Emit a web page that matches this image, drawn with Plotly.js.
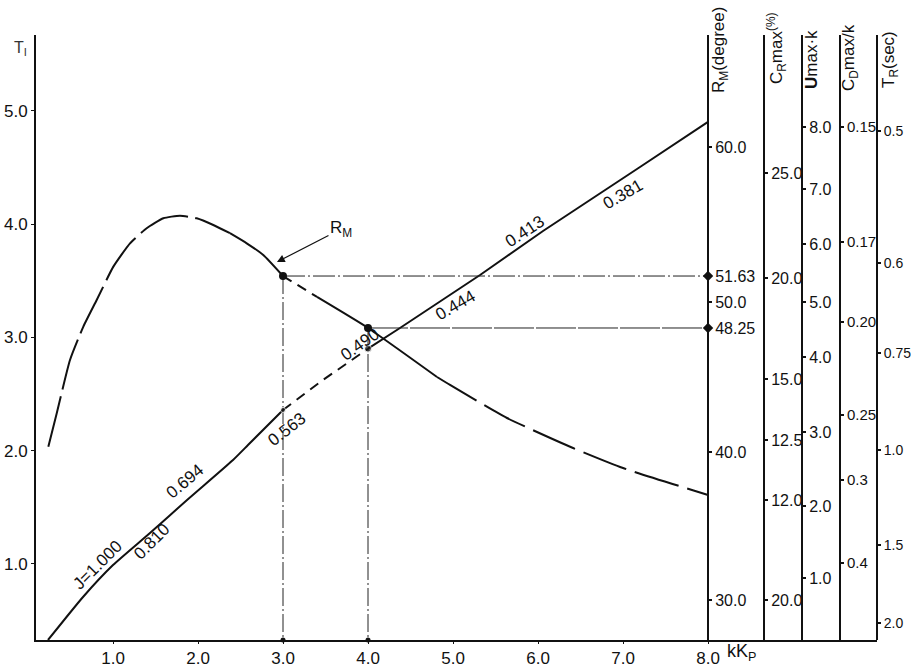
<!DOCTYPE html>
<html>
<head>
<meta charset="utf-8">
<script src="https://cdn.plot.ly/plotly-3.0.1.min.js"></script>
<style>
  html, body { margin: 0; padding: 0; background: #ffffff; }
  #chart { width: 911px; height: 668px; }
</style>
</head>
<body>
<div id="chart"></div>
<script>
// ---- data -------------------------------------------------------------
// T_I against kKp : humped curve
const humpKKp = [0.239, 0.338, 0.494, 0.651, 0.808, 1.004, 1.200, 1.396, 1.592, 1.788, 1.985, 2.180,
                 2.376, 2.573, 2.768, 3.000, 3.400, 4.000, 4.812, 4.965, 5.635, 6.412, 7.000, 8.000];
const humpTI  = [2.034, 2.329, 2.800, 3.095, 3.330, 3.625, 3.831, 3.964, 4.052, 4.075, 4.052, 3.993,
                 3.920, 3.831, 3.728, 3.542, 3.357, 3.083, 2.650, 2.580, 2.288, 2.023, 1.846, 1.608];

// T_I against kKp : rising line graduated in J
const riseKKp = [0.235, 0.647, 1.000, 1.435, 1.871, 2.412, 2.588, 3.000, 3.471, 4.000, 4.376, 5.318, 6.059, 7.200, 8.000];
const riseTI  = [0.327, 0.707, 0.989, 1.272, 1.564, 1.917, 2.049, 2.359, 2.624, 2.900, 3.083, 3.551, 3.940, 4.505, 4.903];
const jLabels = ['J=1.000', '0.810', '0.694', '0.563', '0.490', '0.444', '0.413', '0.381'];

// worked example: two kKp settings read across to the R_M scale
const exampleKKp    = [3.0, 4.0];
const exampleTI     = [3.542, 3.083];
const exampleRiseTI = [2.359, 2.900];
const exampleRM     = ['51.63', '48.25'];

// main axes ticks
const kKpTicks = [1, 2, 3, 4, 5, 6, 7, 8];
const kKpTickText = ['1.0', '2.0', '3.0', '4.0', '5.0', '6.0', '7.0', '8.0'];
const tiTicks = [1, 2, 3, 4, 5];
const tiTickText = ['1.0', '2.0', '3.0', '4.0', '5.0'];

// nomogram scales: labels and the T_I level each one sits at
const rmLabels  = ['60.0', exampleRM[0], '50.0', exampleRM[1], '40.0', '30.0'];
const rmLevels  = [4.682, exampleTI[0], 3.313, exampleTI[1], 1.988, 0.680];
const crLabels  = ['25.0', '20.0', '15.0', '12.5', '12.0', '20.0'];
const crLevels  = [4.452, 3.525, 2.632, 2.094, 1.564, 0.680];
const umLabels  = ['8.0', '7.0', '6.0', '5.0', '4.0', '3.0', '2.0', '1.0'];
const umLevels  = [4.859, 4.311, 3.825, 3.313, 2.827, 2.164, 1.511, 0.875];
const cdLabels  = ['0.15', '0.17', '0.20', '0.25', '0.3', '0.4'];
const cdLevels  = [4.859, 3.843, 3.136, 2.314, 1.740, 1.007];
const trLabels  = ['0.5', '0.6', '0.75', '1.0', '1.5', '2.0'];
const trLevels  = [4.823, 3.657, 2.862, 2.005, 1.166, 0.477];

// ---- layout helpers ---------------------------------------------------
const W = 911, H = 668;
const M = { l: 36, r: 34, t: 35, b: 28 };
const X_RANGE = [0.094, 9.988];
const Y_RANGE = [0.327, 5.671];
const plotW = W - M.l - M.r, plotH = H - M.t - M.b;
const px = v => (v - M.l) / plotW;          // page x -> paper x
const py = v => (H - M.b - v) / plotH;      // page y -> paper y
const xPaper = k => (k - X_RANGE[0]) / (X_RANGE[1] - X_RANGE[0]);

const FONT = 'Liberation Sans, Arial, sans-serif';
const INK = '#111111';

function slice(xs, ys, lo, hi) {
  const x = [], y = [];
  xs.forEach((v, i) => { if (v >= lo - 1e-9 && v <= hi + 1e-9) { x.push(v); y.push(ys[i]); } });
  return { x, y };
}
function curve(xs, ys, lo, hi, dash, shape) {
  const s = slice(xs, ys, lo, hi);
  return { type: 'scatter', mode: 'lines', x: s.x, y: s.y, hoverinfo: 'skip', showlegend: false,
           line: { color: INK, width: 2, dash: dash, shape: shape, smoothing: 0.5 } };
}

const traces = [];
// humped curve, broken the way it is drawn
traces.push(curve(humpKKp, humpTI, 0, 2.376, '52px,7px', 'spline'));
traces.push(curve(humpKKp, humpTI, 2.376, 3.0, 'solid', 'spline'));
traces.push(curve(humpKKp, humpTI, 3.0, 3.4, '10px,7px', 'spline'));
traces.push(curve(humpKKp, humpTI, 3.4, 4.812, 'solid', 'spline'));
traces.push(curve(humpKKp, humpTI, 4.812, 8.0, '46px,9px', 'spline'));
// J line
traces.push(curve(riseKKp, riseTI, 0, 3.0, 'solid', 'spline'));
traces.push(curve(riseKKp, riseTI, 3.0, 4.0, '10px,7px', 'linear'));
traces.push(curve(riseKKp, riseTI, 4.0, 8.0, 'solid', 'linear'));

// construction lines of the example
exampleKKp.forEach((k, i) => {
  traces.push({ type: 'scatter', mode: 'lines', x: [k, 8.0], y: [exampleTI[i], exampleTI[i]],
    hoverinfo: 'skip', showlegend: false,
    line: { color: '#222222', width: 1, dash: i === 0 ? '22px,3px,2px,3px' : '40px,2px' } });
  traces.push({ type: 'scatter', mode: 'lines', x: [k, k], y: [exampleTI[i], Y_RANGE[0]],
    hoverinfo: 'skip', showlegend: false,
    line: { color: '#222222', width: 1, dash: '18px,3px,2px,3px' } });
});
// example points
traces.push({ type: 'scatter', mode: 'markers', x: exampleKKp, y: exampleTI, hoverinfo: 'skip', showlegend: false,
  marker: { color: INK, size: 8 } });
traces.push({ type: 'scatter', mode: 'markers', x: exampleKKp, y: exampleRiseTI, hoverinfo: 'skip', showlegend: false,
  marker: { color: INK, size: [5, 7] } });
traces.push({ type: 'scatter', mode: 'markers', x: exampleKKp, y: exampleKKp.map(() => Y_RANGE[0]), hoverinfo: 'skip',
  showlegend: false, cliponaxis: false, marker: { color: INK, size: 5 } });
traces.push({ type: 'scatter', mode: 'markers', x: exampleKKp.map(() => 8.0), y: exampleTI, hoverinfo: 'skip',
  showlegend: false, cliponaxis: false, marker: { color: INK, size: 8, symbol: 'diamond' } });

// one invisible carrier per nomogram scale so every scale axis is drawn
const scales = [
  { ax: 'y2', labels: rmLabels, levels: rmLevels, pos: xPaper(8.0), size: 16 },
  { ax: 'y3', labels: crLabels, levels: crLevels, pos: px(764), size: 16 },
  { ax: 'y4', labels: umLabels, levels: umLevels, pos: px(802), size: 16 },
  { ax: 'y5', labels: cdLabels, levels: cdLevels, pos: px(840), size: 15 },
  { ax: 'y6', labels: trLabels, levels: trLevels, pos: 1.0, size: 14 }
];
scales.forEach(s => traces.push({ type: 'scatter', mode: 'markers', x: s.levels.map(() => 8.0), y: s.levels,
  yaxis: s.ax, hoverinfo: 'skip', showlegend: false, marker: { opacity: 0, size: 1 } }));

const tickFont = { family: FONT, size: 17, color: INK };
const layout = {
  width: W, height: H, margin: M,
  paper_bgcolor: '#ffffff', plot_bgcolor: '#ffffff',
  showlegend: false, hovermode: false,
  font: { family: FONT, size: 16, color: INK },
  xaxis: { range: X_RANGE, tickvals: kKpTicks, ticktext: kKpTickText, showgrid: false, zeroline: false,
           showline: true, linecolor: INK, linewidth: 2, ticks: 'outside', ticklen: 2, tickcolor: INK,
           tickfont: tickFont, automargin: false, fixedrange: true },
  yaxis: { range: Y_RANGE, tickvals: tiTicks, ticktext: tiTickText, showgrid: false, zeroline: false,
           showline: true, linecolor: INK, linewidth: 2, ticks: 'outside', ticklen: 3, tickcolor: INK,
           tickfont: tickFont, automargin: false, fixedrange: true },
  annotations: [], shapes: []
};
scales.forEach((s, i) => {
  layout['yaxis' + (i + 2)] = {
    overlaying: 'y', anchor: 'free', position: s.pos, side: 'right', range: Y_RANGE,
    tickvals: s.levels, ticktext: s.labels, showgrid: false, zeroline: false,
    showline: true, linecolor: INK, linewidth: 2, ticks: 'outside', ticklen: 3, tickwidth: 1.5,
    tickcolor: INK, tickfont: { family: FONT, size: s.size, color: INK }, automargin: false, fixedrange: true
  };
});

// scale titles
const titles = [
  { text: 'R<sub>M</sub>(degree)', x: 720, y: 50 },
  { text: 'C<sub>R</sub>max<sup>(%)</sup>', x: 776, y: 48 },
  { text: '<b>U</b>max·k', x: 812, y: 60 },
  { text: 'C<sub>D</sub>max/k', x: 850, y: 58 },
  { text: 'T<sub>R</sub>(sec)', x: 890, y: 60 }
];
titles.forEach(t => layout.annotations.push({ text: t.text, xref: 'paper', yref: 'paper', x: px(t.x), y: py(t.y),
  xanchor: 'center', yanchor: 'middle', textangle: -90, showarrow: false, font: { family: FONT, size: 17, color: INK } }));

layout.annotations.push({ text: 'T<sub>I</sub>', xref: 'paper', yref: 'paper', x: px(20), y: py(49),
  xanchor: 'center', yanchor: 'middle', showarrow: false, font: { family: FONT, size: 16, color: '#333333' } });
layout.annotations.push({ text: 'kK<sub>P</sub>', xref: 'paper', yref: 'paper', x: px(741), y: py(652),
  xanchor: 'center', yanchor: 'middle', showarrow: false, font: { family: FONT, size: 18, color: INK } });

// J graduations along the rising line
const jSpots = [
  { x: 0.812, y: 0.989, a: -45 }, { x: 1.459, y: 1.193, a: -45 }, { x: 1.847, y: 1.723, a: -40 },
  { x: 3.047, y: 2.182, a: -38 }, { x: 3.906, y: 2.933, a: -35 }, { x: 5.024, y: 3.286, a: -30 },
  { x: 5.847, y: 3.931, a: -33 }, { x: 7.000, y: 4.258, a: -30 }
];
jLabels.forEach((t, i) => layout.annotations.push({ text: t, x: jSpots[i].x, y: jSpots[i].y, xref: 'x', yref: 'y',
  textangle: jSpots[i].a, showarrow: false, font: { family: FONT, size: 17, color: INK } }));

// R_M pointer
layout.annotations.push({ text: 'R<sub>M</sub>', x: 2.929, y: 3.666, xref: 'x', yref: 'y',
  ax: 64, ay: -33, showarrow: true, arrowhead: 2, arrowsize: 1.3, arrowwidth: 1.2, arrowcolor: INK,
  standoff: 0, font: { family: FONT, size: 17, color: INK } });

Plotly.newPlot('chart', traces, layout, { staticPlot: true, displayModeBar: false });
</script>
</body>
</html>
